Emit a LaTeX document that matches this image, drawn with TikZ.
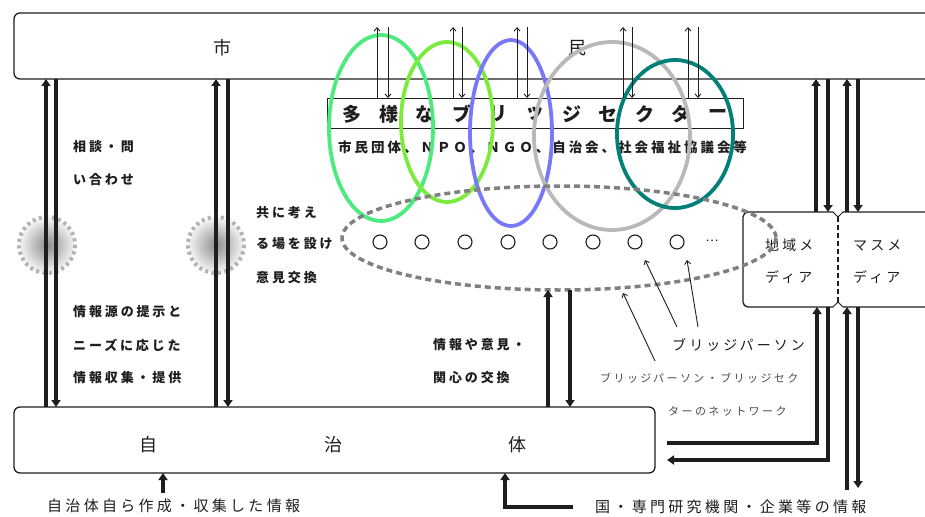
\documentclass[tikz,border=0pt]{standalone}
\usepackage{fontspec}
\newfontfamily\jp[LetterSpace=22]{Noto Sans CJK JP}
\newfontfamily\jpn{Noto Sans CJK JP}
\usetikzlibrary{arrows.meta}
\definecolor{elA}{RGB}{75,235,125}
\definecolor{elB}{RGB}{125,235,60}
\definecolor{elC}{RGB}{120,120,250}
\definecolor{elD}{RGB}{185,185,185}
\definecolor{elE}{RGB}{0,128,118}
\definecolor{dgray}{RGB}{128,128,128}
\definecolor{ink}{RGB}{30,30,30}
\begin{document}
\begin{tikzpicture}[x=1pt,y=-1pt,
  boxst/.style={draw=ink, line width=1.3pt, rounded corners=6pt, inner sep=0pt, outer sep=0pt, anchor=north west},
  thk/.style={line width=3.6pt, ink, line join=miter},
  thkhead/.style={-{Triangle[length=7pt,width=9pt]}},
  thn/.style={line width=0.9pt, ink, -{Straight Barb[length=3.5pt,width=6pt]}},
  big/.style={font=\jpn\fontsize{18}{20}\selectfont, inner sep=0pt, text=ink},
  bchar/.style={font=\jpn\bfseries\fontsize{19}{21}\selectfont, inner sep=0pt, text=ink},
  lbl/.style={font=\jp\bfseries\fontsize{13}{15}\selectfont, anchor=west, inner sep=0pt, text=ink},
  sub/.style={font=\jp\bfseries\fontsize{13.5}{15}\selectfont, anchor=west, inner sep=0pt, text=ink},
  med/.style={font=\jp\fontsize{14}{16}\selectfont, anchor=west, inner sep=0pt, text=ink},
  sml/.style={font=\jp\fontsize{11}{13}\selectfont, anchor=west, inner sep=0pt, text=black!70},
  bot/.style={font=\jp\fontsize{15}{17}\selectfont, anchor=west, inner sep=0pt, text=ink},
  ell/.style={line width=3.8pt},
  blur/.style={draw=black!30, line width=4pt, dash pattern=on 3pt off 3.5pt}
]
\useasboundingbox (0,0) rectangle (925,516);
\fill[white] (0,0) rectangle (925,516);
\clip (0,0) rectangle (925,516);

% main boxes
\node[boxst, minimum width=946pt, minimum height=66pt] (shimin) at (14,13) {};
\node[boxst, minimum width=641pt, minimum height=66pt] (jichi) at (14,407) {};
\node[big] (tA) at (222,48) {市};
\node[big] (tB) at (577,48) {民};
\node[big] (tC) at (148,445) {自};
\node[big] (tD) at (333,445) {治};
\node[big] (tE) at (517,445) {体};

% blurred spots
\shade[inner color=black!45, outer color=white] (47,245) circle (30);
\draw[blur] (47,245) circle (28);
\shade[inner color=black!45, outer color=white] (216,245) circle (30);
\draw[blur] (216,245) circle (28);

% bridge sector box
\node[draw=ink, line width=1.2pt, minimum width=416pt, minimum height=30pt, anchor=north west, inner sep=0pt] (bridge) at (327,98) {};
\foreach \c [count=\i from 0] in {多,様,な,ブ,リ,ッ,ジ,セ,ク,タ,ー}
  \node[bchar] (bc\i) at (352+36.6*\i,114) {\c};
\node[sub] (subt) at (338,147) {市民団体、ＮＰＯ、ＮＧＯ、自治会、社会福祉協議会等};

% media box
\draw[ink, line width=1.3pt, rounded corners=5pt] (833,212) -- (743,212) -- (743,307) -- (833,307);
\draw[ink, line width=1.3pt, rounded corners=5pt] (843,212) -- (960,212) -- (960,307) -- (843,307);
\draw[ink, line width=1pt] (833,212) -- (838,217) -- (843,212);
\draw[ink, line width=1pt] (833,307) -- (838,302) -- (843,307);
\draw[ink, line width=1.2pt, dash pattern=on 5pt off 3pt] (838,217) -- (838,302);
\node[med] (mA) at (765,245) {地域メ};
\node[med] (mB) at (765,277) {ディア};
\node[med] (mC) at (853,245) {マスメ};
\node[med] (mD) at (853,277) {ディア};

% labels
\node[lbl] (l1) at (73,147) {相談・問};
\node[lbl] (l2) at (73,180) {い合わせ};
\node[lbl] (l3) at (73,312) {情報源の提示と};
\node[lbl] (l4) at (73,345) {ニーズに応じた};
\node[lbl] (l5) at (73,378) {情報収集・提供};
\node[lbl] (l6) at (256,213) {共に考え};
\node[lbl] (l7) at (256,244) {る場を設け};
\node[lbl] (l8) at (256,278) {意見交換};
\node[lbl] (l9) at (433,345) {情報や意見・};
\node[lbl] (l10) at (433,378) {関心の交換};
\node[med] (bp) at (672,345) {ブリッジパーソン};
\node[sml] (bn1) at (600,378) {ブリッジパーソン・ブリッジセク};
\node[sml] (bn2) at (668,411) {ターのネットワーク};
\node[bot] (src1) at (47,506) {自治体自ら作成・収集した情報};
\node[bot] (src2) at (595,507) {国・専門研究機関・企業等の情報};

% small circles (bridge persons)
\foreach \x [count=\i] in {380,422,465,508,550,593,635,677}
  \draw[ink, line width=1.1pt] (\x,242) circle (7);
\node[font=\jpn\fontsize{12}{14}\selectfont, inner sep=0pt, text=ink] (dots) at (712,241) {…};

% ellipses
\draw[ell, elA] (381,128) ellipse [x radius=52, y radius=93];
\draw[ell, elB] (447,122) ellipse [x radius=46, y radius=80];
\draw[ell, elC] (511,133) ellipse [x radius=41, y radius=93];
\draw[ell, elD] (612,136) ellipse [x radius=78, y radius=94];
\draw[ell, elE] (675,134) ellipse [x radius=58, y radius=74];
\draw[dgray, line width=3.5pt, dash pattern=on 6pt off 4pt] (559,238) ellipse [x radius=217, y radius=52];

% thin arrows between citizens and bridge sector
\foreach \u/\d in {377/388,453/462,517/527,623/632,688/698}{
  \draw[thn] (\u,98) -- (\u,27);
  \draw[thn] (\d,27) -- (\d,98);
}

% bridge person pointers
\draw[thn] (bp.west) ++(5,-18) -- (645,260);
\draw[thn] (698,327) -- (687,260);
\draw[thn] (655,361) -- (623,293);

% thick arrows
\draw[thk, thkhead] (46,407) -- (46,79);
\draw[thk, thkhead] (56,79) -- (56,407);
\draw[thk, thkhead] (216,407) -- (216,79);
\draw[thk, thkhead] (228,79) -- (228,407);
\draw[thk, thkhead] (816,212) -- (816,79);
\draw[thk, thkhead] (828,79) -- (828,212);
\draw[thk, thkhead] (847,212) -- (847,79);
\draw[thk, thkhead] (858,79) -- (858,212);
\draw[thk, thkhead] (667,443) -- (817,443) -- (817,307);
\draw[thk, thkhead] (828,307) -- (828,460) -- (667,460);
\draw[thk, thkhead] (847,490) -- (847,307);
\draw[thk, thkhead] (858,307) -- (858,488);
\draw[thk, thkhead] (548,407) -- (548,290);
\draw[thk, thkhead] (570,290) -- (570,407);
\draw[thk, thkhead] (163,493) -- (163,473);
\draw[thk, thkhead] (573,507) -- (505,507) -- (505,473);
\end{tikzpicture}
\end{document}
